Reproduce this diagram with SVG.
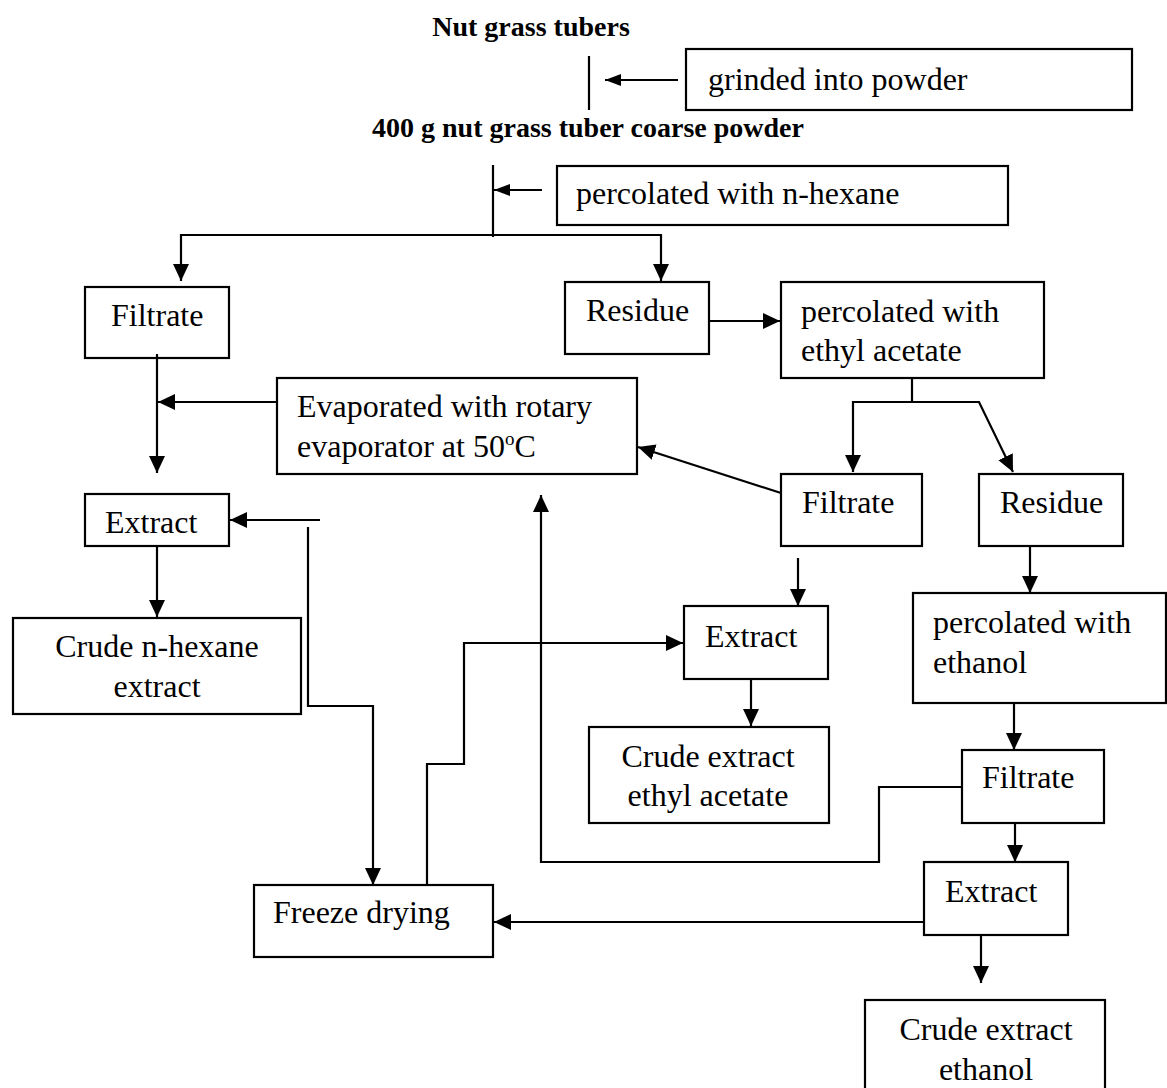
<svg xmlns="http://www.w3.org/2000/svg" width="1167" height="1088" viewBox="0 0 1167 1088">
<style>
.box{fill:#fff;stroke:#000;stroke-width:2.2}
.t{font-family:"Liberation Serif","Times New Roman",serif;font-size:32px;fill:#000}
.b{font-family:"Liberation Serif","Times New Roman",serif;font-size:28px;font-weight:bold;fill:#000}
.c{text-anchor:middle}
.ln{fill:none;stroke:#000;stroke-width:2.2}
.ar{fill:none;stroke:#000;stroke-width:2.2;marker-end:url(#ah)}
.ars{fill:none;stroke:#000;stroke-width:2.2;marker-end:url(#ahs)}
</style>
<defs>
<marker id="ah" markerUnits="userSpaceOnUse" markerWidth="19" markerHeight="17" refX="17" refY="8" orient="auto">
<path d="M0,0 L17,8 L0,16 z" fill="#000"/>
</marker>
<marker id="ahs" markerUnits="userSpaceOnUse" markerWidth="17" markerHeight="13" refX="16" refY="6" orient="auto">
<path d="M0,0 L16,6 L0,12 z" fill="#000"/>
</marker>
</defs>
<rect width="1167" height="1088" fill="#fff"/>

<g id="n-tubers"><text class="b c" x="531" y="36">Nut grass tubers</text></g>
<g id="n-grinded"><rect class="box" x="686" y="49" width="446" height="61"/><text class="t" x="708" y="90">grinded into powder</text></g>
<g id="n-powder"><text class="b c" x="588" y="137">400 g nut grass tuber coarse powder</text></g>
<g id="n-hexane"><rect class="box" x="557" y="166" width="451" height="59"/><text class="t" x="576" y="204">percolated with n-hexane</text></g>
<g id="n-filtrate1"><rect class="box" x="85" y="287" width="144" height="71"/><text class="t" x="111" y="326">Filtrate</text></g>
<g id="n-residue1"><rect class="box" x="565" y="282" width="144" height="72"/><text class="t" x="586" y="321">Residue</text></g>
<g id="n-ethylperc"><rect class="box" x="781" y="282" width="263" height="96"/><text class="t" x="801" y="322">percolated with</text><text class="t" x="801" y="361">ethyl acetate</text></g>
<g id="n-evap"><rect class="box" x="277" y="378" width="360" height="96"/><text class="t" x="297" y="417">Evaporated with rotary</text><text class="t" x="297" y="457">evaporator at 50<tspan font-size="19" dy="-12">o</tspan><tspan dy="12">C</tspan></text></g>
<g id="n-filtrate2"><rect class="box" x="781" y="474" width="141" height="72"/><text class="t" x="802" y="513">Filtrate</text></g>
<g id="n-residue2"><rect class="box" x="979" y="474" width="144" height="72"/><text class="t" x="1000" y="513">Residue</text></g>
<g id="n-extract1"><rect class="box" x="85" y="494" width="144" height="52"/><text class="t" x="105" y="533">Extract</text></g>
<g id="n-crudehex"><rect class="box" x="13" y="618" width="288" height="96"/><text class="t c" x="157" y="657">Crude n-hexane</text><text class="t c" x="157" y="697">extract</text></g>
<g id="n-extract2"><rect class="box" x="684" y="606" width="144" height="73"/><text class="t" x="705" y="647">Extract</text></g>
<g id="n-crudeethyl"><rect class="box" x="589" y="727" width="240" height="96"/><text class="t c" x="708" y="767">Crude extract</text><text class="t c" x="708" y="806">ethyl acetate</text></g>
<g id="n-ethanolperc"><rect class="box" x="913" y="593" width="253" height="110"/><text class="t" x="933" y="633">percolated with</text><text class="t" x="933" y="673">ethanol</text></g>
<g id="n-filtrate3"><rect class="box" x="962" y="750" width="142" height="73"/><text class="t" x="982" y="788">Filtrate</text></g>
<g id="n-extract3"><rect class="box" x="924" y="862" width="144" height="73"/><text class="t" x="945" y="902">Extract</text></g>
<g id="n-freeze"><rect class="box" x="254" y="885" width="239" height="72"/><text class="t" x="273" y="923">Freeze drying</text></g>
<g id="n-crudeethanol"><rect class="box" x="865" y="1000" width="240" height="92"/><text class="t c" x="986" y="1040">Crude extract</text><text class="t c" x="986" y="1080">ethanol</text></g>

<g id="connectors">
<path class="ln" d="M589,56 V110"/>
<path class="ars" d="M678,80 H605"/>
<path class="ln" d="M493,165 V237"/>
<path class="ars" d="M542,190 H494"/>
<path class="ar" d="M493,235 H181 V281"/>
<path class="ar" d="M493,235 H661 V281"/>
<path class="ar" d="M709,321 H780"/>
<path class="ar" d="M157,354 V473"/>
<path class="ar" d="M277,402 H158"/>
<path class="ln" d="M912,378 V402"/>
<path class="ar" d="M912,402 H853 V472"/>
<path class="ar" d="M912,402 H979 L1013,472"/>
<path class="ar" d="M781,493 L638,447"/>
<path class="ar" d="M320,520 H230"/>
<path class="ar" d="M157,546 V617"/>
<path class="ar" d="M308,527 V706 H373 V885"/>
<path class="ar" d="M962,787 H879 V862 H541 V495"/>
<path class="ar" d="M427,885 V764 H464 V643 H683"/>
<path class="ar" d="M798,558 V606"/>
<path class="ar" d="M751,679 V726"/>
<path class="ar" d="M1030,546 V593"/>
<path class="ar" d="M1014,703 V750"/>
<path class="ar" d="M1015,823 V862"/>
<path class="ar" d="M924,922 H494"/>
<path class="ar" d="M981,935 V983"/>
</g>
</svg>
